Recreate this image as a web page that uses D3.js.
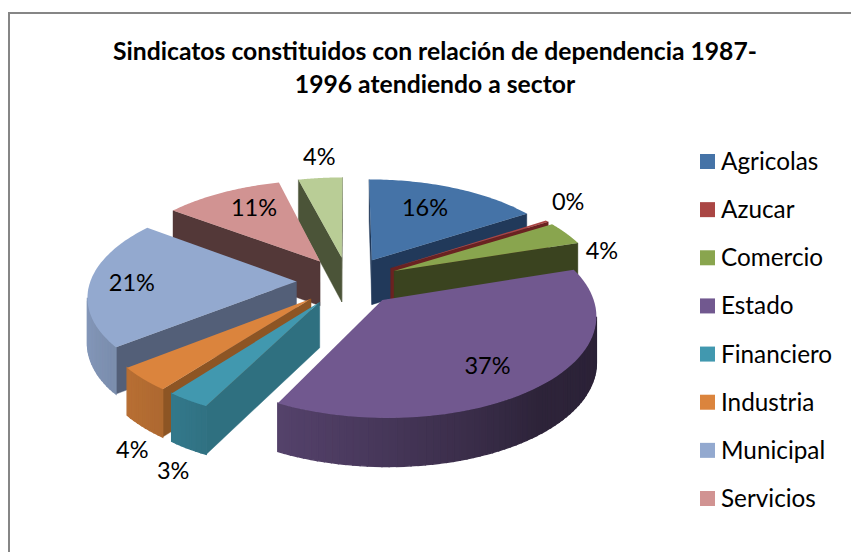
<!DOCTYPE html>
<html>
<head>
<meta charset="utf-8">
<script src="https://cdn.jsdelivr.net/npm/d3@7/dist/d3.min.js"></script>
<style>
html,body{margin:0;padding:0;background:#fff;}
svg{display:block;}
text{font-family:Lato,"Open Sans",sans-serif;fill:#000;}
</style>
</head>
<body>
<svg id="chart" width="851" height="552"></svg>
<script>
const titleLines = ["Sindicatos constituidos con relación de dependencia 1987-", "1996 atendiendo a sector"];
const legendNames = ["Agricolas","Azucar","Comercio","Estado","Financiero","Industria","Municipal","Servicios"];
const sliceValues = [15.8,0.3,3.9,37.5,2.9,3.9,20.9,10.8,4];
const labelTexts = ["16%","0%","4%","37%","3%","4%","21%","11%","4%"];
const topColors = ["#4573a7","#aa4644","#89a54e","#71588f","#4198af","#db843d","#93a9cf","#d19392","#b9cd96"];
const wallColors = ["#21395a","#6a2221","#3a431f","#3a2d4a","#2f7080","#8d5524","#535f78","#533838","#4b5438"];
const labelNudge = [[-30,19],[21,-20],[36,17],[-52,-21],[-15,70],[-11,71],[42,0],[32,15],[-1,-21]];
const paintOrder = [8,7,0,1,2,6,5,4,3];

const centerX = 348, centerY = 281, eyeDist = 7.5, explode = 0.25;
const xScale = d3.scaleLinear().domain([-1,1]).range([-206,206]);
const yScale = d3.scaleLinear().domain([-1,1]).range([-96.8,96.8]);
const depth = d3.scaleLinear().domain([-1,1]).range([42,48]);
const shadeByAngle = d3.scaleLinear()
  .domain([60,100,140,180,205,225,250,270,360])
  .range([.4,.38,.4,.62,.74,.82,.88,.9,.9]);

const svg = d3.select("#chart");

function project(wx, wy, down) {
  const s = eyeDist / (eyeDist - wy);
  return [centerX + xScale(wx) * s, centerY + yScale(wy) * s + (down ? depth(wy) : 0)];
}
const pieData = d3.pie().sort(null).value(d => d)(sliceValues);

function slicePoint(p, r, ang, down) {
  const mid = (p.startAngle + p.endAngle) / 2;
  const wx = explode * Math.sin(mid) + r * Math.sin(ang);
  const wy = -explode * Math.cos(mid) - r * Math.cos(ang);
  return project(wx, wy, down);
}
const cross = (a,b,c) => (b[0]-a[0])*(c[1]-a[1]) - (b[1]-a[1])*(c[0]-a[0]);
const line = d3.line();

paintOrder.forEach(i => {
  const p = pieData[i];
  const g = svg.append("g");
  const mid = (p.startAngle + p.endAngle) / 2;
  const apex = slicePoint(p, 0, 0, false), apexLow = slicePoint(p, 0, 0, true);
  const midRim = slicePoint(p, 1, mid, false);

  // radial walls
  [p.startAngle, p.endAngle].forEach(a => {
    const rim = slicePoint(p, 1, a, false), rimLow = slicePoint(p, 1, a, true);
    const below = [apex[0], apex[1] + 10];
    if (cross(apex, rim, midRim) * cross(apex, rim, below) < 0) {
      g.append("path").attr("d", line([apex, rim, rimLow, apexLow]) + "Z")
        .attr("fill", wallColors[i]).attr("stroke", wallColors[i]).attr("stroke-width", .4);
    }
  });

  // outer rim wall
  const steps = Math.max(2, Math.ceil((p.endAngle - p.startAngle) / 0.03));
  const angles = d3.range(steps + 1).map(k => p.startAngle + (p.endAngle - p.startAngle) * k / steps);
  d3.pairs(angles).forEach(([a0, a1]) => {
    const A = slicePoint(p, 1, a0, false), B = slicePoint(p, 1, a1, false);
    if (B[0] >= A[0]) return;
    const deg = (a0 + a1) / 2 * 180 / Math.PI;
    const col = d3.rgb(topColors[i]);
    const f = shadeByAngle(deg);
    const fill = d3.rgb(col.r*f, col.g*f, col.b*f).formatHex();
    g.append("path")
      .attr("d", line([A, B, slicePoint(p, 1, a1, true), slicePoint(p, 1, a0, true)]) + "Z")
      .attr("fill", fill).attr("stroke", fill).attr("stroke-width", 1.4);
  });

  // top face
  const rimPts = d3.range(61).map(k => slicePoint(p, 1, p.startAngle + (p.endAngle - p.startAngle) * k / 60, false));
  g.append("path").attr("d", line([apex, ...rimPts]) + "Z").attr("fill", topColors[i]);
});

// frame
svg.append("path").attr("d", "M9,552V13H851").attr("fill","none").attr("stroke","#868686").attr("stroke-width",2);

// title
svg.selectAll("text.title").data(titleLines).join("text").attr("class","title")
  .attr("x",435).attr("y",(d,i)=>60+i*33).attr("text-anchor","middle")
  .attr("font-size",24.7).attr("font-weight",700).text(d=>d);

// labels
pieData.forEach((p,i)=>{
  const mid=(p.startAngle+p.endAngle)/2;
  const m=project(1.25*Math.sin(mid),-1.25*Math.cos(mid),false);
  svg.append("text").attr("x",m[0]+labelNudge[i][0]).attr("y",m[1]+labelNudge[i][1])
    .attr("dy","0.36em").attr("text-anchor","middle").attr("font-size",23.5).text(labelTexts[i]);
});

// legend
const legendY = d3.scalePoint().domain(legendNames).range([154,491]);
const leg = svg.selectAll("g.leg").data(legendNames).join("g").attr("class","leg")
  .attr("transform",d=>`translate(700,${legendY(d)})`);
leg.append("rect").attr("width",15).attr("height",15).attr("fill",(d,i)=>topColors[i]);
leg.append("text").attr("x",21).attr("y",16).attr("font-size",24.3).text(d=>d);
</script>
</body>
</html>
